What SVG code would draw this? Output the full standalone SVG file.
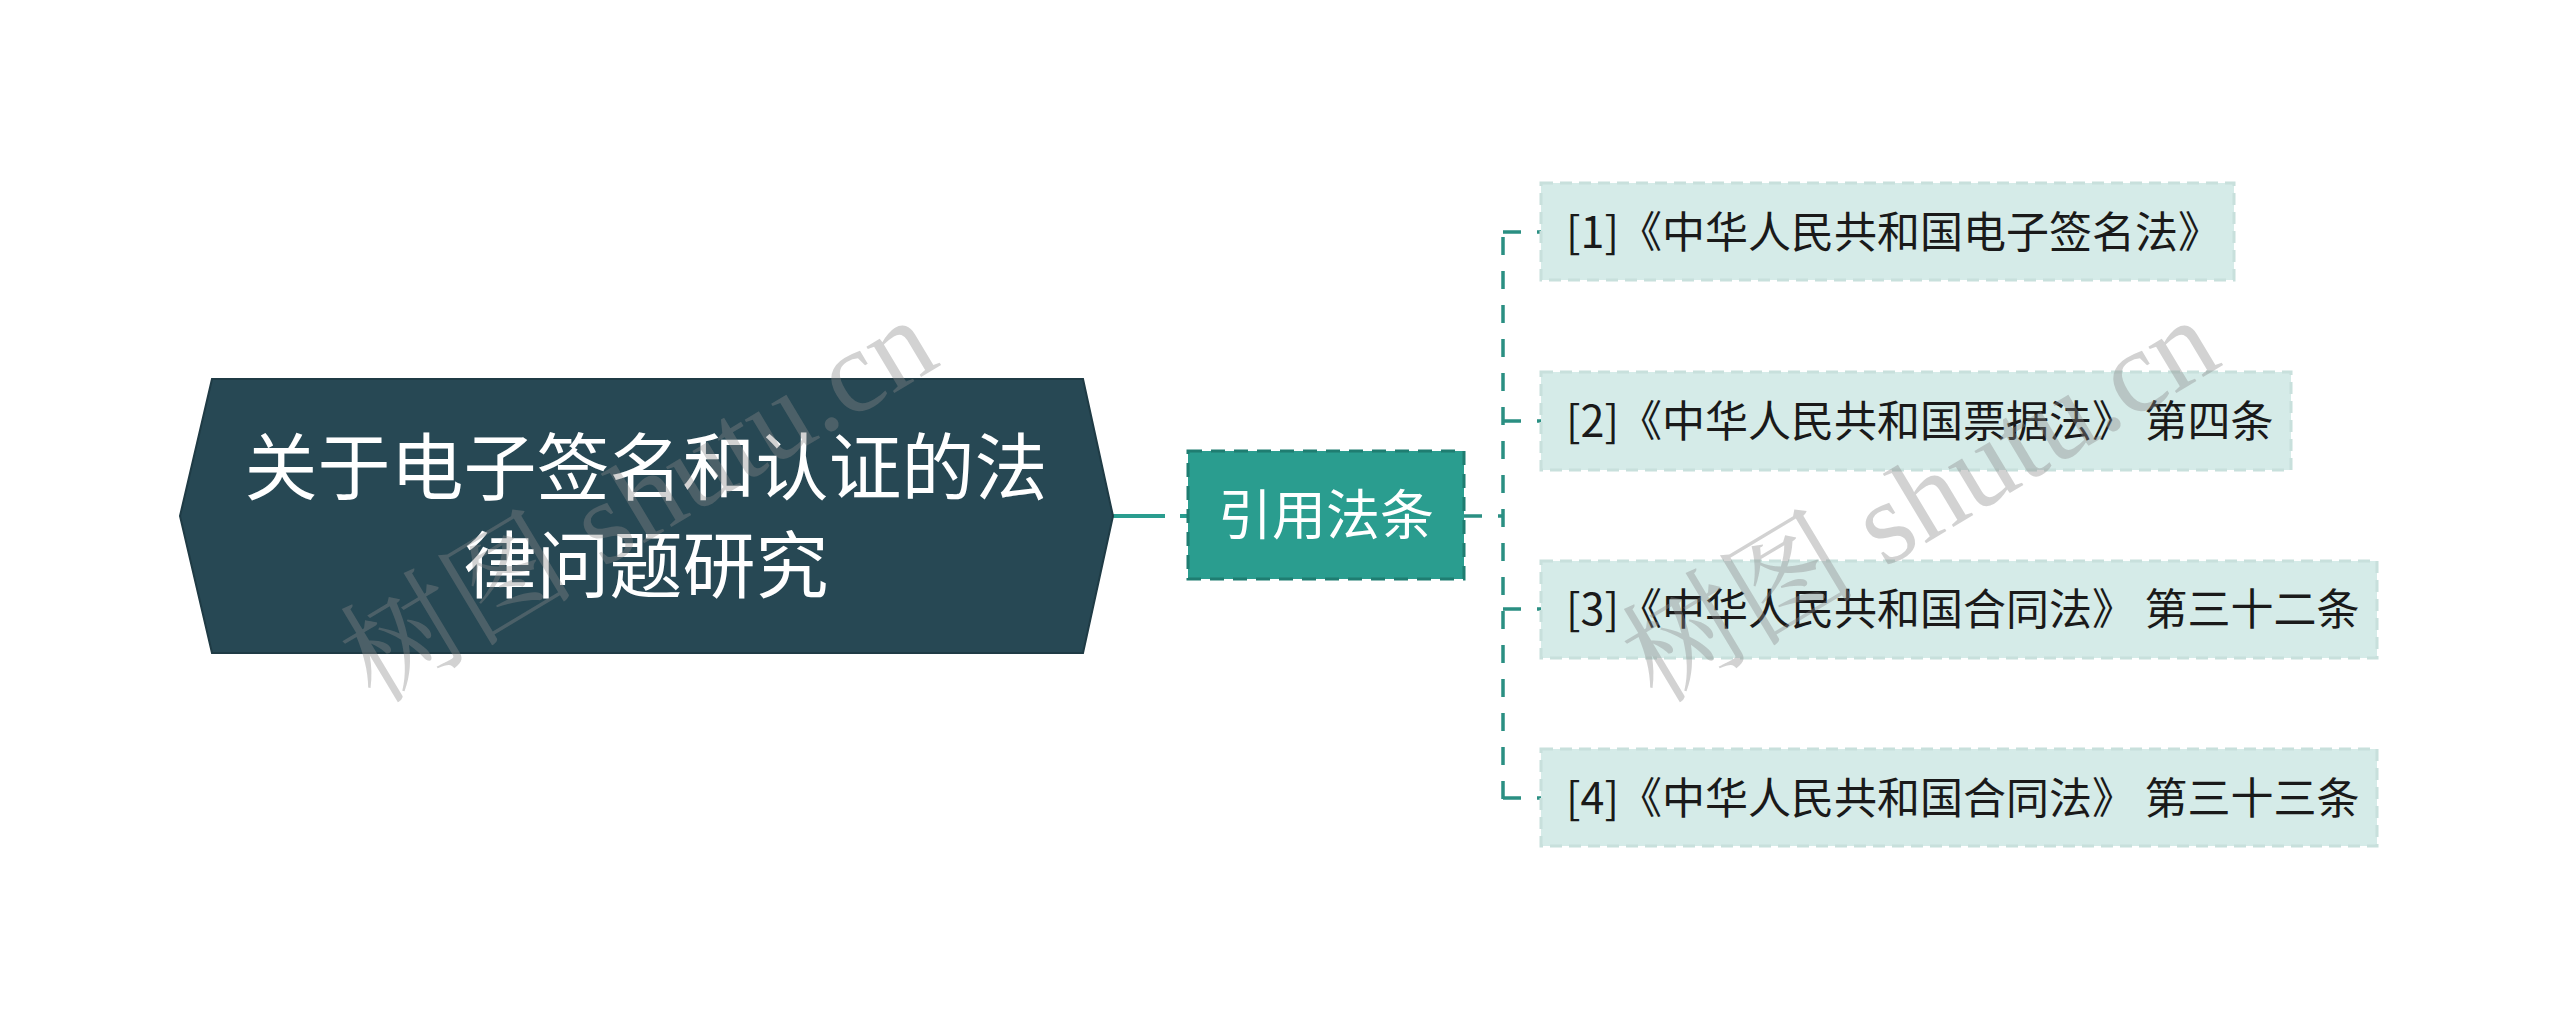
<svg xmlns="http://www.w3.org/2000/svg" width="2560" height="1031" viewBox="0 0 2560 1031">
<style>
.cjk{font-family:"Noto Sans CJK SC","Noto Sans",sans-serif;}
.root-t{fill:#ffffff;font-size:73px;text-anchor:middle;}
.mid-t{fill:#ffffff;font-size:54px;text-anchor:middle;}
.leaf-t{fill:#1a1a1a;font-size:43px;}
.leaf{fill:#d5ebe8;stroke:#c8e0dc;stroke-width:3;stroke-dasharray:12 7;}
.conn{fill:none;stroke:#2a8f82;stroke-width:3.5;stroke-dasharray:18 16;}
.wm{font-family:"Liberation Serif","Noto Serif CJK SC","Noto Sans CJK SC",serif;font-size:118px;fill:#8a8a8a;fill-opacity:0.38;}
</style>
<rect width="2560" height="1031" fill="#ffffff"/>
<g id="connectors">
<path d="M1113,516 H1165" stroke="#2a9d8f" stroke-width="4" fill="none"/>
<path d="M1180,516 H1190" stroke="#2a9d8f" stroke-width="4" fill="none"/>
<path class="conn" d="M1464,516 H1503" stroke-dasharray="14 14"/>
<path class="conn" d="M1503,799 V232"/>
<path class="conn" d="M1503,232 H1541" stroke-dasharray="4 14 18 20"/>
<path class="conn" d="M1503,421 H1541" stroke-dasharray="0 20 18 20"/>
<path class="conn" d="M1503,609 H1541" stroke-dasharray="4 14 18 20"/>
<path class="conn" d="M1503,798 H1541" stroke-dasharray="4 14 18 20"/>
</g>
<g id="root">
<polygon points="180,516 212,379 1083,379 1113,516 1083,653 212,653" fill="#274854" stroke="#1f3b45" stroke-width="2"/>
<text class="cjk root-t" x="646" y="494">关于电子签名和认证的法</text>
<text class="cjk root-t" x="646" y="592">律问题研究</text>
</g>
<g id="mid">
<rect x="1188" y="451" width="276" height="128" fill="#2a9d8f" stroke="#1f7d71" stroke-width="3" stroke-dasharray="14 9"/>
<text class="cjk mid-t" x="1326" y="535">引用法条</text>
</g>
<g id="leaf1">
<rect class="leaf" x="1541" y="183" width="693" height="97"/>
<text class="cjk leaf-t" x="1566" y="248">[1]《中华人民共和国电子签名法》</text>
</g>
<g id="leaf2">
<rect class="leaf" x="1541" y="372" width="750" height="98"/>
<text class="cjk leaf-t" x="1566" y="437">[2]《中华人民共和国票据法》 第四条</text>
</g>
<g id="leaf3">
<rect class="leaf" x="1541" y="561" width="836" height="97"/>
<text class="cjk leaf-t" x="1566" y="625">[3]《中华人民共和国合同法》 第三十二条</text>
</g>
<g id="leaf4">
<rect class="leaf" x="1541" y="749" width="836" height="97"/>
<text class="cjk leaf-t" x="1566" y="814">[4]《中华人民共和国合同法》 第三十三条</text>
</g>
<g id="watermarks">
<text class="wm" transform="translate(375,705) rotate(-31)">树图 shutu.cn</text>
<text class="wm" transform="translate(1657,705) rotate(-31)">树图 shutu.cn</text>
</g>
</svg>
